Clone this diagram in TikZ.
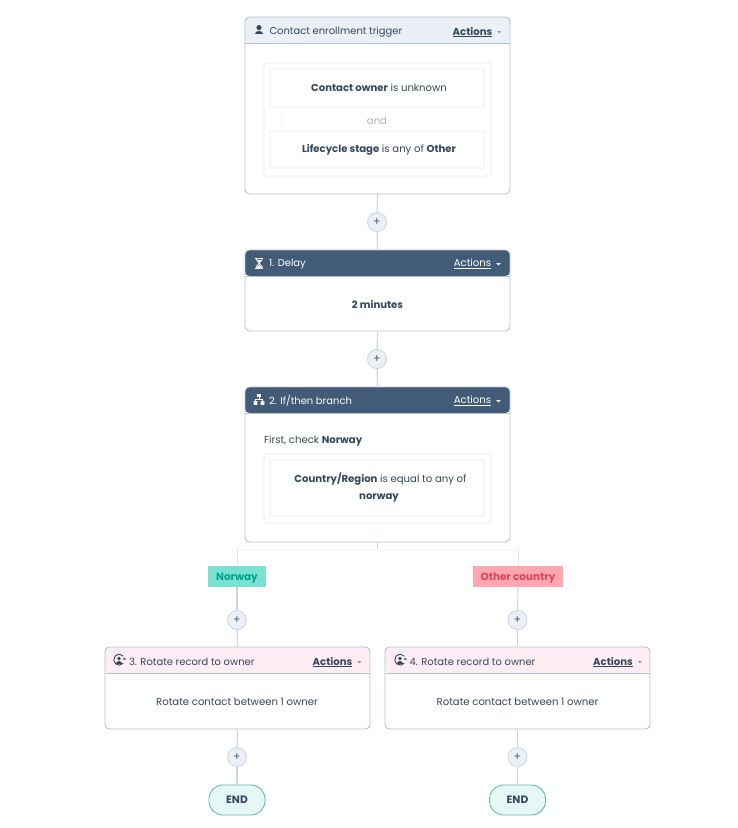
\documentclass[tikz,border=0pt]{standalone}
\usepackage{fontspec}
\setmainfont{Poppins}
\usetikzlibrary{calc}
\definecolor{ink}{HTML}{33475B}
\definecolor{slate}{HTML}{425B76}
\definecolor{paleblue}{HTML}{EAF0F6}
\definecolor{palepink}{HTML}{FEEEF3}
\definecolor{cardedge}{HTML}{B3C1D1}
\definecolor{linkc}{HTML}{CBD6E2}
\definecolor{frame}{HTML}{E6EBF1}
\definecolor{endfill}{HTML}{E5F8F6}
\definecolor{endedge}{HTML}{63B9AE}
\definecolor{mint}{HTML}{7AE0D0}
\definecolor{minttext}{HTML}{00A38D}
\definecolor{rose}{HTML}{FFA6AF}
\definecolor{rosetext}{HTML}{D9445E}
\tikzset{
  x=1pt,y=-1pt,
  every node/.style={inner sep=0pt,outer sep=0pt,font=\fontsize{10.1}{13}\selectfont,text=ink},
  card/.style={draw=cardedge,line width=0.9pt,fill=white,rounded corners=4.5pt,minimum width=265pt},
  head/.style 2 args={path picture={\fill[#1] (path picture bounding box.north west) rectangle ([yshift=-#2]path picture bounding box.north east);
     \draw[cardedge,line width=0.9pt] ([yshift=-#2]path picture bounding box.north west) -- ([yshift=-#2]path picture bounding box.north east);}},
  framebox/.style={draw=frame,line width=0.8pt,fill=white,rounded corners=1pt},
  plusbtn/.style={circle,draw=linkc,line width=0.8pt,fill=paleblue,minimum size=19pt,text=slate,font=\fontsize{11}{11}\selectfont},
  link/.style={draw=linkc,line width=1.1pt},
  faintv/.style={draw=linkc!65!white,line width=0.9pt},
  faint/.style={draw=frame!45!white,line width=0.8pt},
  endnode/.style={draw=endedge,line width=0.9pt,fill=endfill,rounded corners=14pt,minimum width=56pt,minimum height=30pt,font=\fontsize{10.7}{11}\selectfont\bfseries},
  tag/.style={minimum height=21pt,text height=9.5pt,text depth=2.5pt,font=\fontsize{10.4}{11}\selectfont\bfseries},
  titletext/.style={anchor=west,font=\fontsize{9.95}{13}\selectfont},
  actions/.style={anchor=center,font=\fontsize{10.1}{11}\selectfont\bfseries},
}
\newcommand{\acts}[4]{% name, x, y, colour
  \node[actions,text=#4] (#1) at (#2,#3) {\underline{Actions}};
  \fill[#4!55!white] ($(#1.east)+(5,-1)$) -- ++(4.2,0) -- ++(-2.1,2.2) -- cycle;
}
\newcommand{\actsw}[4]{% name, x, y, colour on a dark header
  \node[actions,text=#4,font=\fontsize{10.1}{11}\selectfont] (#1) at (#2,#3) {\underline{Actions}};
  \fill[#4] ($(#1.east)+(5,-1)$) -- ++(4.6,0) -- ++(-2.3,2.4) -- cycle;
}
\begin{document}
\begin{tikzpicture}
\useasboundingbox (0,0) rectangle (737,828);
\fill[white] (0,0) rectangle (737,828);

% cards
\node[card,minimum height=177pt,head={paleblue}{26pt}] (trigger) at (377.5,105.5) {};
\node[card,minimum height=81pt,head={slate}{26pt}] (delay) at (377.5,290.5) {};
\node[card,minimum height=155pt,head={slate}{26pt}] (branch) at (377.5,464.5) {};
\node[card,minimum height=82pt,head={palepink}{26pt}] (rotA) at (237.5,688) {};
\node[card,minimum height=82pt,head={palepink}{26pt}] (rotB) at (517.5,688) {};

% trigger
\node[titletext] (trigT) at (269.5,32) {Contact enrollment trigger};
\acts{trigA}{472.5}{32}{ink}
\fill[ink] (259,27.6) circle (2.6);
\fill[ink] (255,34.4) .. controls (255,30) and (263,30) .. (263,34.4) -- cycle;
\node[framebox,minimum width=227pt,minimum height=113pt] (trigF) at (377.5,119.5) {};
\node[framebox,minimum width=214pt,minimum height=38pt] (cond1) at (377,88) {};
\node (cond1t) at (379,88) {\textbf{Contact owner} is unknown};
\draw[faint] (281,107) -- (281,131);
\node[framebox,minimum width=214pt,minimum height=37pt] (cond2) at (377,149.5) {};
\node (cond2t) at (379,149.5) {\textbf{Lifecycle stage} is any of \textbf{Other}};
\node[text=cardedge!90!ink] (andT) at (377,120.5) {and};

% delay
\node[titletext,text=white] (delT) at (269,264) {1. Delay};
\actsw{delA}{472.5}{264}{white}
\draw[white,line width=0.9pt] (255,258.2) -- (263.4,258.2) (255,268) -- (263.4,268);
\draw[white,line width=0.8pt] (256.2,258.2) -- (256.2,259.6) -- (259.2,263.1) -- (256.2,266.6) -- (256.2,268)
      (262.2,258.2) -- (262.2,259.6) -- (259.2,263.1) -- (262.2,266.6) -- (262.2,268);
\fill[white] (256.4,268) -- (259.2,264.6) -- (262,268) -- cycle (257.2,259.8) -- (261.2,259.8) -- (259.2,262.2) -- cycle;
\node[font=\fontsize{10.1}{11}\selectfont\bfseries] (delB) at (377.5,304) {2 minutes};

% branch
\node[titletext,text=white] (brT) at (269,401) {2. If/then branch};
\actsw{brA}{472.5}{401}{white}
\fill[white] (257,394.2) rectangle (261,397.4);
\fill[white] (253.6,401) rectangle (257.4,404.8) (260.6,401) rectangle (264.4,404.8);
\draw[white,line width=0.8pt] (259,397) -- (259,399.3) (255.5,401.2) -- (255.5,399.3) -- (262.5,399.3) -- (262.5,401.2);
\node[anchor=west] (brL) at (264,441) {First, check \textbf{Norway}};
\node[framebox,minimum width=227pt,minimum height=69pt] (brF) at (377.5,488.5) {};
\node[framebox,minimum width=214pt,minimum height=56pt,align=center] (cond3) at (377,488) {};
\node[anchor=center] (cond3a) at (380.5,479.5) {\textbf{Country/Region} is equal to any of};
\node[anchor=center,font=\fontsize{10.1}{11}\selectfont\bfseries] (cond3b) at (379,497.5) {norway};

% rotate cards
\node[titletext] (rotAT) at (129,662) {3. Rotate record to owner};
\acts{rotAA}{332.5}{662}{ink}
\node[titletext] (rotBT) at (409.5,662) {4. Rotate record to owner};
\acts{rotBA}{613}{662}{ink}
\node (rotAB) at (237,702) {Rotate contact between 1 owner};
\node (rotBB) at (517.5,702) {Rotate contact between 1 owner};
\foreach \ox in {0,281}{
  \begin{scope}[xshift=\ox pt]
  \draw[ink,line width=0.9pt] (123.3,663.2) arc (40:320:5.4);
  \fill[ink] (119,658.4) circle (1.9);
  \fill[ink] (115.6,664) .. controls (115.6,660) and (122.4,660) .. (122.4,664) -- cycle;
  \fill[ink] (122.6,659.6) -- (126,659.6) -- (124.3,657.6) -- cycle;
  \end{scope}
}

% tags and end
\node[tag,fill=mint,text=minttext,minimum width=58pt] (tagN) at (237,576.5) {Norway};
\node[tag,fill=rose,text=rosetext,minimum width=90pt] (tagO) at (518,576.5) {Other country};
\node[endnode] (endA) at (237,800) {END};
\node[endnode] (endB) at (517.5,800) {END};

% plus buttons
\node[plusbtn] (p1) at (377,222) {+};
\node[plusbtn] (p2) at (377,359) {+};
\node[plusbtn] (p3) at (237,620) {+};
\node[plusbtn] (p4) at (517.5,620) {+};
\node[plusbtn] (p5) at (237,757) {+};
\node[plusbtn] (p6) at (517.5,757) {+};

% connectors
\coordinate (bj) at (377.5,549);
\coordinate (bl) at (237,549);
\coordinate (br) at (518,549);
\draw[link] (trigger.south) -- (p1);
\draw[link] (p1) -- (delay.north);
\draw[link] (delay.south) -- (p2);
\draw[link] (p2) -- (branch.north);
\draw[link] (branch.south) -- (bj);
\draw[faint] (bl) -- (br);
\draw[faintv] (bl) -- (tagN.north);
\draw[faintv] (br) -- (tagO.north);
\draw[link] (tagN.south) -- (p3);
\draw[link] (tagO.south) -- (p4);
\draw[link] (p3) -- (rotA.north);
\draw[link] (p4) -- (rotB.north);
\draw[link] (rotA.south) -- (p5);
\draw[link] (rotB.south) -- (p6);
\draw[link] (p5) -- (endA.north);
\draw[link] (p6) -- (endB.north);
\end{tikzpicture}
\end{document}
